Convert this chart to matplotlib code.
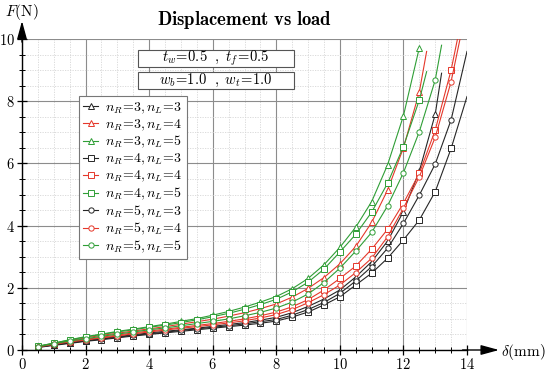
import matplotlib
matplotlib.use("Agg")
import matplotlib.pyplot as plt
from matplotlib.patches import Rectangle
from matplotlib.ticker import MultipleLocator, FuncFormatter

plt.rcParams["mathtext.fontset"] = "cm"
plt.rcParams["font.family"] = "DejaVu Serif"

# displacement (mm) at the marker positions
disp = [0.5, 1.0, 1.5, 2.0, 2.5, 3.0, 3.5, 4.0, 4.5, 5.0, 5.5, 6.0, 6.5,
        7.0, 7.5, 8.0, 8.5, 9.0, 9.5, 10.0, 10.5, 11.0, 11.5, 12.0, 12.5,
        13.0, 13.5]

# load (N)
f_r3_l3 = [0.09, 0.17, 0.24, 0.30, 0.37, 0.43, 0.49, 0.55, 0.60, 0.65, 0.70, 0.76,
           0.82, 0.88, 0.96, 1.05, 1.20, 1.40, 1.64, 1.93, 2.35, 2.84, 3.50, 4.45,
           5.75, 7.58]
f_r3_l4 = [0.11, 0.21, 0.30, 0.39, 0.47, 0.54, 0.61, 0.68, 0.75, 0.83, 0.91, 0.99,
           1.09, 1.20, 1.33, 1.48, 1.70, 1.98, 2.33, 2.77, 3.33, 4.10, 5.14, 6.50,
           8.30]
f_r3_l5 = [0.12, 0.22, 0.33, 0.43, 0.51, 0.60, 0.67, 0.75, 0.83, 0.92, 1.01, 1.12,
           1.24, 1.38, 1.54, 1.72, 1.97, 2.30, 2.74, 3.30, 3.95, 4.77, 5.95, 7.53,
           9.72]
f_r4_l3 = [0.08, 0.15, 0.21, 0.28, 0.33, 0.39, 0.45, 0.50, 0.55, 0.60, 0.65, 0.70,
           0.75, 0.80, 0.86, 0.93, 1.06, 1.22, 1.45, 1.71, 2.09, 2.47, 2.95, 3.54,
           4.18, 5.09, 6.48]
f_r4_l4 = [0.10, 0.19, 0.27, 0.34, 0.41, 0.48, 0.55, 0.61, 0.67, 0.73, 0.79, 0.85,
           0.92, 1.00, 1.10, 1.22, 1.39, 1.62, 1.93, 2.30, 2.70, 3.24, 3.88, 4.72,
           5.68, 7.07, 9.00]
f_r4_l5 = [0.12, 0.22, 0.32, 0.42, 0.50, 0.58, 0.65, 0.73, 0.80, 0.88, 0.97, 1.07,
           1.18, 1.31, 1.46, 1.63, 1.87, 2.18, 2.60, 3.15, 3.72, 4.43, 5.36, 6.54,
           8.04]
f_r5_l3 = [0.09, 0.16, 0.23, 0.29, 0.35, 0.41, 0.47, 0.52, 0.57, 0.63, 0.68, 0.73,
           0.78, 0.84, 0.91, 0.98, 1.12, 1.30, 1.53, 1.82, 2.22, 2.68, 3.27, 4.07,
           4.98, 5.98, 7.40]
f_r5_l4 = [0.10, 0.18, 0.26, 0.32, 0.39, 0.45, 0.52, 0.58, 0.64, 0.70, 0.75, 0.81,
           0.87, 0.94, 1.03, 1.14, 1.30, 1.52, 1.78, 2.09, 2.49, 2.95, 3.64, 4.56,
           5.57, 6.84, 8.63]
f_r5_l5 = [0.11, 0.20, 0.29, 0.36, 0.44, 0.51, 0.58, 0.65, 0.71, 0.78, 0.85, 0.92,
           1.00, 1.10, 1.21, 1.35, 1.54, 1.80, 2.17, 2.63, 3.18, 3.78, 4.63, 5.70,
           7.02, 8.68]

# where each curve's line stops past its last marker (None = stops at marker)
tail_d = [13.2, 12.73, None, 14.0, 13.7, 12.73, 14.0, 13.78, 13.2]
tail_f = [8.9, 9.6, None, 8.15, 10.0, 8.95, 9.6, 10.0, 9.8]

loads = [f_r3_l3, f_r3_l4, f_r3_l5, f_r4_l3, f_r4_l4, f_r4_l5, f_r5_l3, f_r5_l4, f_r5_l5]
n_r = [3, 3, 3, 4, 4, 4, 5, 5, 5]
n_l = [3, 4, 5, 3, 4, 5, 3, 4, 5]

COLORS = {3: "#262626", 4: "#e5382b", 5: "#2f9e36"}
MARKERS = {3: "^", 4: "s", 5: "o"}

fig = plt.figure(figsize=(5.5, 3.75), dpi=100)
ax = fig.add_axes([22 / 550, 25 / 375, 445 / 550, 311 / 375])

for f, r, l, td, tf in zip(loads, n_r, n_l, tail_d, tail_f):
    xs = disp[:len(f)]
    ys = list(f)
    if td is not None:
        xs = xs + [td]
        ys = ys + [tf]
    ax.plot(xs, ys, color=COLORS[l], lw=0.8, marker=MARKERS[r], ms=3.8,
            mfc="white", mec=COLORS[l], mew=0.7, markevery=list(range(len(f))),
            label=rf"$n_R\!=\!{r},n_L\!=\!{l}$")

ax.set_xlim(0, 14)
ax.set_ylim(0, 10)
ax.xaxis.set_major_locator(MultipleLocator(2))
ax.xaxis.set_minor_locator(MultipleLocator(0.5))
ax.yaxis.set_major_locator(MultipleLocator(2))
ax.yaxis.set_minor_locator(MultipleLocator(0.5))
fmt = FuncFormatter(lambda v, pos: f"${v:g}$")
ax.xaxis.set_major_formatter(fmt)
ax.yaxis.set_major_formatter(fmt)
ax.tick_params(which="major", direction="inout", length=7, width=0.9, labelsize=10.5, pad=1.5)
ax.tick_params(which="minor", direction="inout", length=4, width=0.7)

ax.grid(which="major", color="#8c8c8c", lw=0.8)
ax.grid(which="minor", color="#d6d6d6", lw=0.6, ls=(0, (1.5, 1.5)))
ax.set_axisbelow(True)

for side in ["top", "right"]:
    ax.spines[side].set_visible(False)
for side in ["left", "bottom"]:
    ax.spines[side].set_linewidth(1.0)

arrow = dict(arrowstyle="-|>,head_length=1.1,head_width=0.3", color="black",
             lw=1.0, shrinkA=0, shrinkB=0)
ax.annotate("", xy=(1.072, 0), xytext=(0.99, 0), xycoords="axes fraction",
            arrowprops=arrow, annotation_clip=False)
ax.annotate("", xy=(0, 1.058), xytext=(0, 0.99), xycoords="axes fraction",
            arrowprops=arrow, annotation_clip=False)

fig.text(22 / 550, 1 - 12 / 375, r"$F(\mathrm{N})$", ha="center", va="center", fontsize=11)
fig.text(523 / 550, 1 - 352 / 375, r"$\delta(\mathrm{mm})$", ha="center", va="center", fontsize=11)
fig.text(244 / 550, 1 - 20 / 375, r"$\mathbf{Displacement\ vs\ load}$",
         ha="center", va="center", fontsize=13.5)

# parameter boxes
for top, bottom, txt in [(50, 67, r"$t_w\!=\!0.5\ \ ,\ t_f\!=\!0.5$"),
                         (72, 89, r"$w_b\!=\!1.0\ \ ,\ w_t\!=\!1.0$")]:
    fig.patches.append(Rectangle((138 / 550, 1 - bottom / 375), 156 / 550,
                                 (bottom - top) / 375, transform=fig.transFigure,
                                 fc="white", ec="#555555", lw=0.8, zorder=5))
    fig.text(216 / 550, 1 - (top + bottom) / 2 / 375, txt, ha="center", va="center",
             fontsize=10.5, zorder=6)

leg = ax.legend(loc="upper left", bbox_to_anchor=(0.128, 0.817), borderaxespad=0,
                fontsize=10, handlelength=1.1, handletextpad=0.5, labelspacing=0.1,
                borderpad=0.3, fancybox=False, framealpha=1, edgecolor="#777777")
leg.get_frame().set_linewidth(0.8)

fig.savefig("out.png", dpi=100)
